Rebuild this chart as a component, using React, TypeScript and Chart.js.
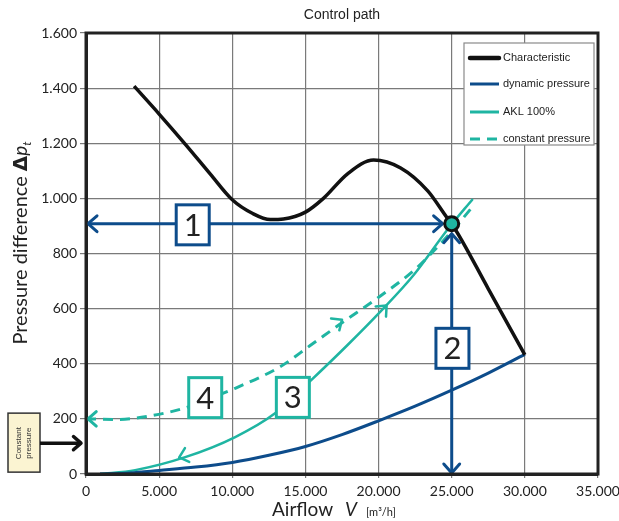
import React, { useEffect, useRef } from 'react';
import { Chart, registerables } from 'chart.js';

Chart.register(...registerables);

// ---- data ----
const xTickValues = [0, 5000, 10000, 15000, 20000, 25000, 30000, 35000];
const yTickValues = [0, 200, 400, 600, 800, 1000, 1200, 1400, 1600];

const charFlow = [3290, 5000, 6780, 8500, 10000, 11400, 12600, 13500, 15000, 16230, 17880, 19660, 21510, 23360, 24730, 25000, 27500, 30000];
const charPressure = [1407, 1306, 1197, 1088, 995, 945, 923, 925, 950, 1000, 1089, 1139, 1110, 1027, 926, 908, 672, 432];

const dynFlow = [960, 3000, 5000, 7500, 10000, 12500, 15000, 17500, 20000, 22500, 25000, 27500, 30000];
const dynPressure = [0, 4, 13, 25, 42, 68, 100, 143, 193, 246, 304, 366, 434];

const aklFlow = [960, 3360, 6780, 10200, 12950, 15340, 17880, 20140, 22400, 24730, 26440];
const aklPressure = [0, 14, 61, 134, 221, 338, 468, 590, 722, 888, 998];

const constFlow = [0, 2200, 4500, 6800, 8200, 10200, 13300, 15300, 17400, 20100, 22400, 24000, 25000, 26400];
const constPressure = [200, 198, 212, 240, 268, 311, 390, 465, 545, 645, 738, 822, 880, 968];

const seriesNames = ['Characteristic', 'dynamic pressure', 'AKL 100%', 'constant pressure'];

// operating point and annotations (data coordinates)
const operatingPoint = { x: 25000, y: 908 };
const arrow1 = { x0: 0, x1: 24380, y: 908 };
const arrow2 = { x: 25000, y0: 872, y1: 0 };
const numberBoxes = [
  { label: '1', x: 7295, y: 904, color: 'blue' },
  { label: '2', x: 25050, y: 456, color: 'blue' },
  { label: '3', x: 14140, y: 278, color: 'teal' },
  { label: '4', x: 8150, y: 277, color: 'teal' },
];
const chevrons = [
  { tipX: 17500, tipY: 560, backX: 15000, backY: 468, color: 'teal' },
  { tipX: 20550, tipY: 611, backX: 18500, backY: 500, color: 'teal' },
  { tipX: 6370, tipY: 60, backX: 8500, backY: 95, color: 'teal' },
];
const constantPressureLevel = 112;

const BLACK = '#111111';
const BLUE = '#0d4c8b';
const TEAL = '#1fb5a2';
const TEXT = '#222222';

const fmt = (v: number) =>
  v < 1000 ? String(v) : `${Math.floor(v / 1000)}.${String(v % 1000).padStart(3, '0')}`;

const zip = (xs: number[], ys: number[]) => xs.map((x, i) => ({ x, y: ys[i] }));

function drawChevron(ctx: CanvasRenderingContext2D, tx: number, ty: number, ang: number, len: number, color: string, lw: number) {
  const spread = 0.72;
  ctx.save();
  ctx.strokeStyle = color;
  ctx.lineWidth = lw;
  ctx.lineCap = 'round';
  ctx.lineJoin = 'round';
  ctx.beginPath();
  ctx.moveTo(tx - len * Math.cos(ang - spread), ty - len * Math.sin(ang - spread));
  ctx.lineTo(tx, ty);
  ctx.lineTo(tx - len * Math.cos(ang + spread), ty - len * Math.sin(ang + spread));
  ctx.stroke();
  ctx.restore();
}

const overlayPlugin = {
  id: 'overlay',
  afterDatasetsDraw(chart: any) {
    const ctx: CanvasRenderingContext2D = chart.ctx;
    const xs = chart.scales.x;
    const ys = chart.scales.y;
    const area = chart.chartArea;
    const px = (v: number) => xs.getPixelForValue(v);
    const py = (v: number) => ys.getPixelForValue(v);

    // arrow 1 (horizontal)
    ctx.save();
    ctx.strokeStyle = BLUE;
    ctx.lineWidth = 3;
    ctx.beginPath();
    ctx.moveTo(px(arrow1.x0) + 2, py(arrow1.y));
    ctx.lineTo(px(arrow1.x1), py(arrow1.y));
    ctx.stroke();
    ctx.restore();
    drawChevron(ctx, px(arrow1.x0) + 2, py(arrow1.y), Math.PI, 12, BLUE, 3);
    drawChevron(ctx, px(arrow1.x1), py(arrow1.y), 0, 12, BLUE, 3);

    // arrow 2 (vertical)
    ctx.save();
    ctx.strokeStyle = BLUE;
    ctx.lineWidth = 3;
    ctx.beginPath();
    ctx.moveTo(px(arrow2.x), py(arrow2.y0));
    ctx.lineTo(px(arrow2.x), py(arrow2.y1) - 1);
    ctx.stroke();
    ctx.restore();
    drawChevron(ctx, px(arrow2.x), py(arrow2.y0), -Math.PI / 2, 12, BLUE, 3);
    drawChevron(ctx, px(arrow2.x), py(arrow2.y1) - 1, Math.PI / 2, 12, BLUE, 3);

    // dashed line left arrow
    drawChevron(ctx, px(constFlow[0]) + 2, py(constPressure[0]), Math.PI, 11, TEAL, 3);

    // chevrons on curves
    chevrons.forEach((c) => {
      const tx = px(c.tipX), ty = py(c.tipY);
      const ang = Math.atan2(ty - py(c.backY), tx - px(c.backX));
      drawChevron(ctx, tx, ty, ang, 11, TEAL, 2.5);
    });

    // number boxes
    numberBoxes.forEach((b) => {
      const cx = px(b.x), cy = py(b.y);
      const w = 33, h = 40;
      ctx.save();
      ctx.fillStyle = '#ffffff';
      ctx.strokeStyle = b.color === 'blue' ? BLUE : TEAL;
      ctx.lineWidth = 3;
      ctx.fillRect(cx - w / 2, cy - h / 2, w, h);
      ctx.strokeRect(cx - w / 2, cy - h / 2, w, h);
      ctx.fillStyle = TEXT;
      ctx.font = '31px Lato, "Liberation Sans", sans-serif';
      ctx.textAlign = 'center';
      ctx.textBaseline = 'middle';
      ctx.fillText(b.label, cx, cy + 1);
      ctx.restore();
    });

    // operating point
    ctx.save();
    ctx.beginPath();
    ctx.arc(px(operatingPoint.x), py(operatingPoint.y), 7, 0, Math.PI * 2);
    ctx.fillStyle = TEAL;
    ctx.fill();
    ctx.lineWidth = 3;
    ctx.strokeStyle = BLACK;
    ctx.stroke();
    ctx.restore();

    // legend
    const lx = area.right - 134, ly = area.top + 10, lw = 130, lh = 102;
    ctx.save();
    ctx.fillStyle = '#ffffff';
    ctx.fillRect(lx, ly, lw, lh);
    ctx.strokeStyle = '#8a8a8a';
    ctx.lineWidth = 1.2;
    ctx.strokeRect(lx, ly, lw, lh);
    const styles = [
      { c: BLACK, w: 4.5, dash: [] as number[] },
      { c: BLUE, w: 3, dash: [] as number[] },
      { c: TEAL, w: 3, dash: [] as number[] },
      { c: TEAL, w: 3, dash: [10, 7] },
    ];
    const rows = [15, 41, 69, 96];
    styles.forEach((s, i) => {
      const yy = ly + rows[i];
      ctx.strokeStyle = s.c;
      ctx.lineWidth = s.w;
      ctx.lineCap = i === 0 ? 'round' : 'butt';
      ctx.setLineDash(s.dash);
      ctx.beginPath();
      ctx.moveTo(lx + 6, yy);
      ctx.lineTo(lx + 35, yy);
      ctx.stroke();
      ctx.setLineDash([]);
      ctx.fillStyle = TEXT;
      ctx.font = '11px "Liberation Sans", Arial, sans-serif';
      ctx.textAlign = 'left';
      ctx.textBaseline = 'middle';
      ctx.fillText(seriesNames[i], lx + 39, yy);
    });
    ctx.restore();
  },
  afterDraw(chart: any) {
    const ctx: CanvasRenderingContext2D = chart.ctx;
    const area = chart.chartArea;
    const ys = chart.scales.y;

    // frame
    ctx.save();
    ctx.strokeStyle = '#222222';
    ctx.lineWidth = 3;
    ctx.strokeRect(area.left, area.top, area.right - area.left, area.bottom - area.top);
    ctx.restore();

    // title
    ctx.save();
    ctx.fillStyle = TEXT;
    ctx.font = '14px "Liberation Sans", Arial, sans-serif';
    ctx.textAlign = 'center';
    ctx.textBaseline = 'alphabetic';
    ctx.fillText('Control path', (area.left + area.right) / 2, 19);
    ctx.restore();

    // y axis title
    ctx.save();
    ctx.translate(27, 243);
    ctx.rotate(-Math.PI / 2);
    ctx.fillStyle = TEXT;
    ctx.textBaseline = 'alphabetic';
    ctx.textAlign = 'left';
    const yParts = [
      { t: 'Pressure difference ', f: '20px Lato, sans-serif', dy: 0 },
      { t: 'Δ', f: 'bold 20px "DejaVu Sans", sans-serif', dy: 0 },
      { t: 'p', f: 'italic 19px Lato, sans-serif', dy: 0 },
      { t: 't', f: 'italic 12px Lato, sans-serif', dy: 4 },
    ];
    let total = 0;
    yParts.forEach((p) => { ctx.font = p.f; total += ctx.measureText(p.t).width; });
    let cx = -total / 2;
    yParts.forEach((p) => {
      ctx.font = p.f;
      ctx.fillText(p.t, cx, p.dy);
      cx += ctx.measureText(p.t).width;
    });
    ctx.restore();

    // x axis title
    ctx.save();
    ctx.fillStyle = TEXT;
    ctx.textBaseline = 'alphabetic';
    ctx.textAlign = 'left';
    const xParts = [
      { t: 'Airflow', f: '19px Lato, sans-serif', gap: 12 },
      { t: 'V', f: 'italic 19px Lato, sans-serif', gap: 9 },
      { t: '[m³/h]', f: '11px Lato, sans-serif', gap: 0 },
    ];
    let tw = 0;
    xParts.forEach((p) => { ctx.font = p.f; tw += ctx.measureText(p.t).width + p.gap; });
    let x0 = (area.left + area.right) / 2 - tw / 2 - 8;
    xParts.forEach((p) => {
      ctx.font = p.f;
      ctx.fillText(p.t, x0, 516);
      x0 += ctx.measureText(p.t).width + p.gap;
    });
    ctx.restore();

    // constant pressure note box + arrow
    const by = ys.getPixelForValue(constantPressureLevel);
    const bx = area.left - 78;
    ctx.save();
    ctx.fillStyle = '#fbf4d2';
    ctx.strokeStyle = '#333333';
    ctx.lineWidth = 1.5;
    ctx.fillRect(bx, by - 30, 32, 59);
    ctx.strokeRect(bx, by - 30, 32, 59);
    ctx.translate(bx + 16, by);
    ctx.rotate(-Math.PI / 2);
    ctx.fillStyle = '#333333';
    ctx.font = '8px "Liberation Sans", Arial, sans-serif';
    ctx.textAlign = 'center';
    ctx.textBaseline = 'middle';
    ctx.fillText('Constant', 0, -5);
    ctx.fillText('pressure', 0, 5);
    ctx.restore();
    ctx.save();
    ctx.strokeStyle = BLACK;
    ctx.lineWidth = 3.5;
    ctx.beginPath();
    ctx.moveTo(bx + 32, by);
    ctx.lineTo(area.left - 5, by);
    ctx.stroke();
    ctx.restore();
    drawChevron(ctx, area.left - 5, by, 0, 10, BLACK, 3.5);
  },
};

export default function App() {
  const canvasRef = useRef<HTMLCanvasElement | null>(null);

  useEffect(() => {
    document.body.style.margin = '0';
    const canvas = canvasRef.current;
    if (!canvas) return;
    const tickFont = { family: 'Lato, sans-serif', size: 14 };
    const chart = new Chart(canvas, {
      type: 'line',
      data: {
        datasets: [
          {
            label: seriesNames[0],
            data: zip(charFlow, charPressure),
            borderColor: BLACK,
            borderWidth: 3.5,
            cubicInterpolationMode: 'monotone',
            pointRadius: 0,
            fill: false,
          },
          {
            label: seriesNames[1],
            data: zip(dynFlow, dynPressure),
            borderColor: BLUE,
            borderWidth: 3,
            cubicInterpolationMode: 'monotone',
            pointRadius: 0,
            fill: false,
          },
          {
            label: seriesNames[2],
            data: zip(aklFlow, aklPressure),
            borderColor: TEAL,
            borderWidth: 2.5,
            cubicInterpolationMode: 'monotone',
            pointRadius: 0,
            fill: false,
          },
          {
            label: seriesNames[3],
            data: zip(constFlow, constPressure),
            borderColor: TEAL,
            borderWidth: 3,
            borderDash: [10, 7],
            cubicInterpolationMode: 'monotone',
            pointRadius: 0,
            fill: false,
          },
        ],
      },
      options: {
        animation: false,
        responsive: false,
        maintainAspectRatio: false,
        layout: { padding: { left: 0, right: 21, top: 33, bottom: 0 } },
        plugins: { legend: { display: false }, tooltip: { enabled: false }, title: { display: false } },
        scales: {
          x: {
            type: 'linear',
            min: 0,
            max: 35000,
            afterBuildTicks: (s: any) => { s.ticks = xTickValues.map((v) => ({ value: v })); },
            ticks: { callback: (v: any) => fmt(Number(v)), color: TEXT, font: tickFont, padding: 5, maxRotation: 0, autoSkip: false },
            grid: { color: '#7a7a7a', lineWidth: 1.2, tickLength: 4, drawTicks: true },
            border: { display: true, color: '#222222', width: 3 },
            afterFit: (s: any) => { s.height = 47; s.paddingLeft = 0; s.paddingRight = 0; },
          },
          y: {
            type: 'linear',
            min: 0,
            max: 1600,
            afterBuildTicks: (s: any) => { s.ticks = yTickValues.map((v) => ({ value: v })); },
            ticks: { callback: (v: any) => fmt(Number(v)), color: TEXT, font: tickFont, padding: 3, autoSkip: false },
            grid: { color: '#7a7a7a', lineWidth: 1.2, tickLength: 6, drawTicks: true },
            border: { display: true, color: '#222222', width: 3 },
            afterFit: (s: any) => { s.width = 86; s.paddingTop = 0; s.paddingBottom = 0; },
          },
        },
      },
      plugins: [overlayPlugin],
    } as any);
    return () => chart.destroy();
  }, []);

  return (
    <div style={{ width: 619, height: 521, background: '#ffffff' }}>
      <canvas ref={canvasRef} width={619} height={521} style={{ display: 'block' }} />
    </div>
  );
}
